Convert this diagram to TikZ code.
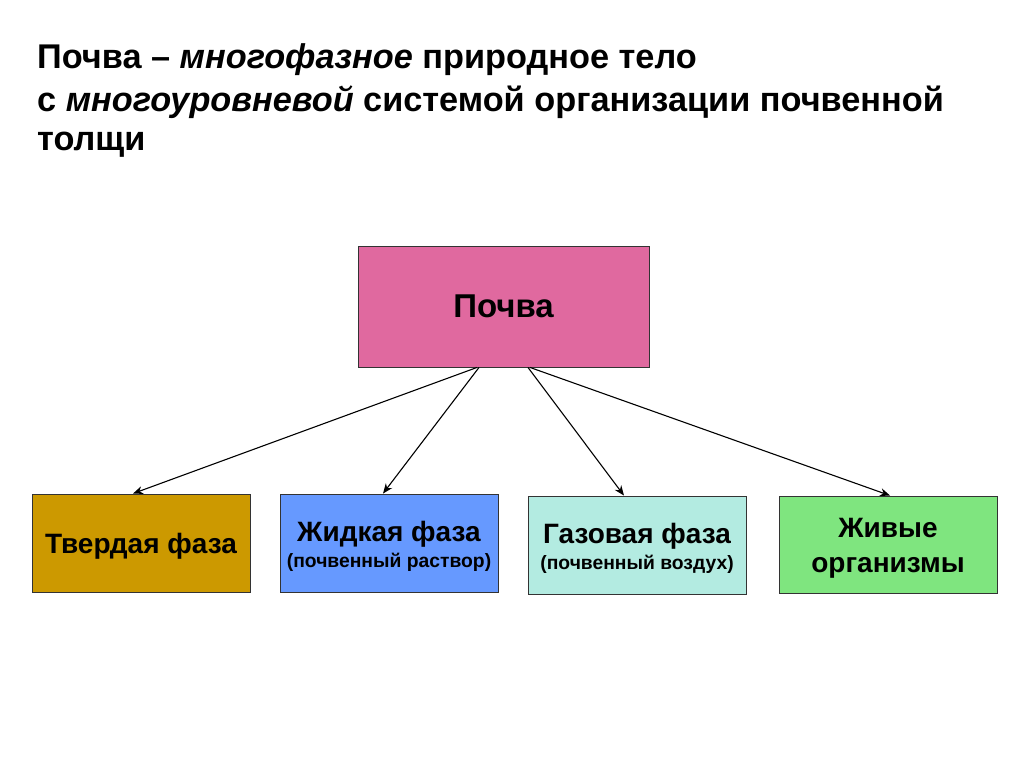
\documentclass[tikz,border=0pt]{standalone}
\usepackage{fontspec}
\setmainfont{Liberation Sans}
\usetikzlibrary{arrows.meta}
\definecolor{cpink}{HTML}{E0699F}
\definecolor{cgold}{HTML}{CC9900}
\definecolor{cblue}{HTML}{6699FF}
\definecolor{caqua}{HTML}{B3EBE1}
\definecolor{cgreen}{HTML}{7FE57F}
\definecolor{cline}{HTML}{333333}
\tikzset{
  boxstyle/.style={draw=cline, line width=0.9pt, inner sep=0pt, font=\bfseries\fontsize{28}{30}\selectfont},
  arr/.style={-{Stealth[length=10pt,width=8pt]}, line width=1.1pt, black},
  ttl/.style={anchor=base west, inner sep=0pt, font=\bfseries\fontsize{34.3}{38}\selectfont}
}
\newcommand{\subtxt}[1]{{\fontsize{19.3}{21}\selectfont #1}}
\newcommand{\lowered}[2]{\raisebox{#1}[\height][\depth]{#2}}
\newcommand{\twolines}[4]{\lowered{#1}{\begin{tabular}{@{}c@{}}#2\\[#3]#4\end{tabular}}}
\begin{document}
\begin{tikzpicture}[x=1pt,y=-1pt]
\useasboundingbox (0,0) rectangle (1024,767);
\fill[white] (0,0) rectangle (1024,767);
\node[ttl] (t1) at (37,69) {Почва – \textit{многофазное} природное тело};
\node[ttl] (t2) at (37,112) {с \textit{многоуровневой} системой организации почвенной};
\node[ttl] (t3) at (37,151) {толщи};
\node[boxstyle, fill=cpink, minimum width=291pt, minimum height=121pt, font=\bfseries\fontsize{33}{36}\selectfont] (soil) at (503.5,306.5) {Почва};
\node[boxstyle, fill=cgold, minimum width=218pt, minimum height=98pt] (solid) at (141,543) {\lowered{-3pt}{Твердая фаза}};
\node[boxstyle, fill=cblue, minimum width=218pt, minimum height=98pt] (liquid) at (389,543) {\twolines{-5pt}{Жидкая фаза}{-4pt}{\subtxt{(почвенный раствор)}}};
\node[boxstyle, fill=caqua, minimum width=218pt, minimum height=98pt] (gas) at (637,545) {\twolines{-5pt}{Газовая фаза}{-4pt}{\subtxt{(почвенный воздух)}}};
\node[boxstyle, fill=cgreen, minimum width=218pt, minimum height=97pt] (life) at (888,544.5) {\twolines{-4pt}{Живые}{5pt}{организмы}};
\draw[arr] (soil.south -| 477,0) -- (solid.north -| 133,0);
\draw[arr] (soil.south -| 479,0) -- (liquid.north -| 383,0);
\draw[arr] (soil.south -| 528,0) -- (gas.north -| 624,0);
\draw[arr] (soil.south -| 530,0) -- (life.north -| 890,0);
\end{tikzpicture}
\end{document}
